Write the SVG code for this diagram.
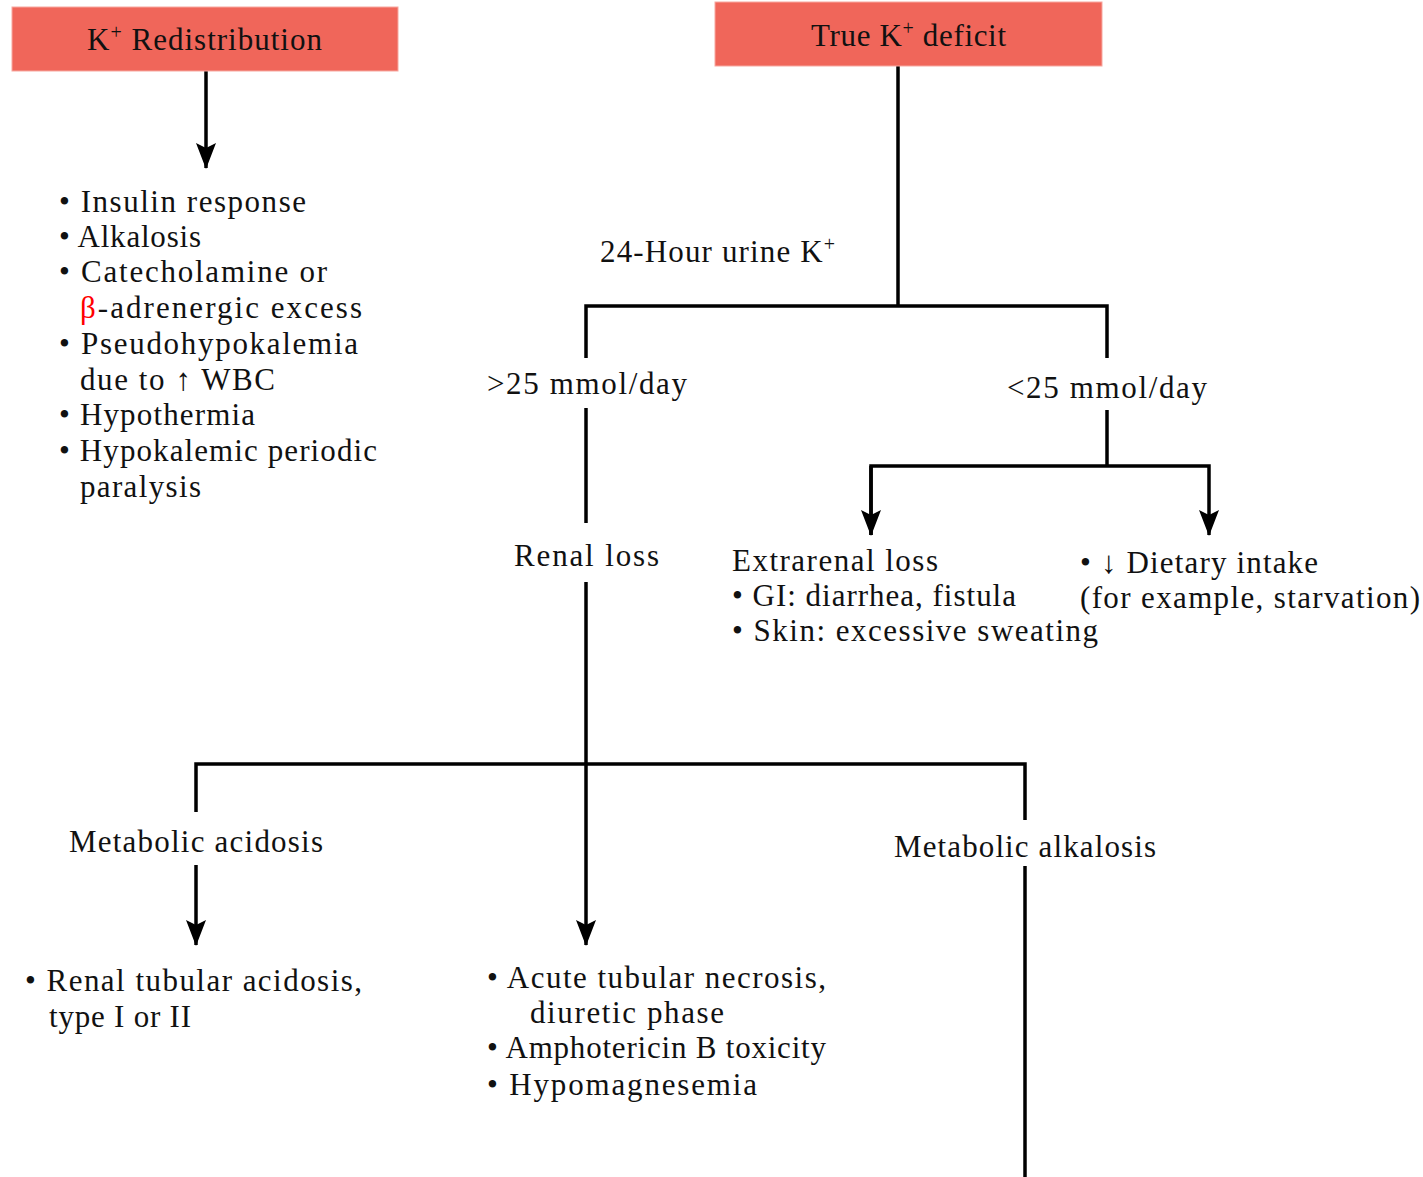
<svg xmlns="http://www.w3.org/2000/svg" width="1423" height="1177" viewBox="0 0 1423 1177">
<style>
text{font-family:"Liberation Serif","Times New Roman",serif;font-size:31px;fill:#111}
.box{fill:#F0665A;stroke:#F7A8A0;stroke-width:1}
.ln{fill:none;stroke:#000;stroke-width:3.5}
.sup{font-size:20px}
</style>
<defs>
<marker id="ah" viewBox="0 0 26 20" refX="25" refY="10" markerWidth="26" markerHeight="20" markerUnits="userSpaceOnUse" orient="auto">
<path d="M0,0 L26,10 L0,20 L5,10 z" fill="#000"/>
</marker>
</defs>
<rect width="1423" height="1177" fill="#fff"/>
<g id="connectors">
<line class="ln" x1="206" y1="71" x2="206" y2="168" marker-end="url(#ah)"/>
<line class="ln" x1="898" y1="66" x2="898" y2="306"/>
<polyline class="ln" points="586,358 586,306 1107,306 1107,358"/>
<line class="ln" x1="586" y1="408" x2="586" y2="523"/>
<line class="ln" x1="586" y1="582" x2="586" y2="945" marker-end="url(#ah)"/>
<polyline class="ln" points="196,812 196,764 1025,764 1025,820"/>
<line class="ln" x1="196" y1="865" x2="196" y2="945" marker-end="url(#ah)"/>
<line class="ln" x1="1025" y1="866" x2="1025" y2="1177"/>
<line class="ln" x1="1107" y1="410" x2="1107" y2="466"/>
<polyline class="ln" points="871,535 871,466 1209,466 1209,535" marker-end="url(#ah)"/>
<line class="ln" x1="871" y1="466" x2="871" y2="535" marker-end="url(#ah)"/>
</g>
<g id="redistribution">
<rect class="box" x="12" y="7" width="386" height="64"/>
<text x="87" y="50" textLength="235" lengthAdjust="spacing">K<tspan class="sup" baseline-shift="super">+</tspan> Redistribution</text>
</g>
<g id="true-deficit">
<rect class="box" x="715" y="2" width="387" height="64"/>
<text x="811" y="46" textLength="195" lengthAdjust="spacing">True K<tspan class="sup" baseline-shift="super">+</tspan> deficit</text>
</g>
<g id="redistribution-causes">
<text x="59" y="212" textLength="247" lengthAdjust="spacing">• Insulin response</text>
<text x="59" y="247" textLength="142" lengthAdjust="spacing">• Alkalosis</text>
<text x="59" y="282" textLength="268" lengthAdjust="spacing">• Catecholamine or</text>
<text x="80" y="318" textLength="282" lengthAdjust="spacing"><tspan fill="#FF0000">β</tspan>-adrenergic excess</text>
<text x="59" y="354" textLength="299" lengthAdjust="spacing">• Pseudohypokalemia</text>
<text x="80" y="390" textLength="195" lengthAdjust="spacing">due to ↑ WBC</text>
<text x="59" y="425" textLength="196" lengthAdjust="spacing">• Hypothermia</text>
<text x="59" y="461" textLength="318" lengthAdjust="spacing">• Hypokalemic periodic</text>
<text x="80" y="497" textLength="121" lengthAdjust="spacing">paralysis</text>
</g>
<g id="urine-k">
<text x="600" y="262" textLength="235" lengthAdjust="spacing">24-Hour urine K<tspan class="sup" baseline-shift="super">+</tspan></text>
</g>
<g id="gt25">
<text x="487" y="394" textLength="200" lengthAdjust="spacing">&gt;25 mmol/day</text>
</g>
<g id="lt25">
<text x="1007" y="398" textLength="200" lengthAdjust="spacing">&lt;25 mmol/day</text>
</g>
<g id="renal-loss">
<text x="514" y="566" textLength="145" lengthAdjust="spacing">Renal loss</text>
</g>
<g id="extrarenal-loss">
<text x="732" y="571" textLength="206" lengthAdjust="spacing">Extrarenal loss</text>
<text x="732" y="606" textLength="284" lengthAdjust="spacing">• GI: diarrhea, fistula</text>
<text x="732" y="641" textLength="366" lengthAdjust="spacing">• Skin: excessive sweating</text>
</g>
<g id="dietary">
<text x="1080" y="573" textLength="238" lengthAdjust="spacing">• ↓ Dietary intake</text>
<text x="1080" y="608" textLength="340" lengthAdjust="spacing">(for example, starvation)</text>
</g>
<g id="metabolic-acidosis">
<text x="69" y="852" textLength="254" lengthAdjust="spacing">Metabolic acidosis</text>
</g>
<g id="metabolic-alkalosis">
<text x="894" y="857" textLength="262" lengthAdjust="spacing">Metabolic alkalosis</text>
</g>
<g id="rta">
<text x="25" y="991" textLength="337" lengthAdjust="spacing">• Renal tubular acidosis,</text>
<text x="49" y="1027" textLength="142" lengthAdjust="spacing">type I or II</text>
</g>
<g id="renal-causes">
<text x="487" y="988" textLength="339" lengthAdjust="spacing">• Acute tubular necrosis,</text>
<text x="530" y="1023" textLength="194" lengthAdjust="spacing">diuretic phase</text>
<text x="487" y="1058" textLength="339" lengthAdjust="spacing">• Amphotericin B toxicity</text>
<text x="487" y="1095" textLength="270" lengthAdjust="spacing">• Hypomagnesemia</text>
</g>
</svg>
